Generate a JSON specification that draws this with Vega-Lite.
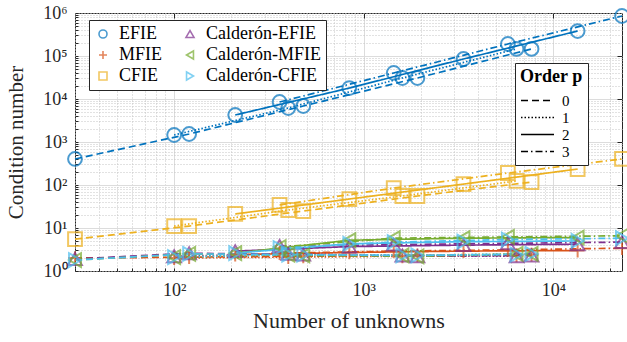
{
  "$schema": "https://vega.github.io/schema/vega-lite/v6.json",
  "width": 547,
  "height": 258,
  "autosize": {"type": "none"},
  "padding": {"left": 75, "top": 13, "right": 5, "bottom": 71},
  "config": {
    "font": "Liberation Serif",
    "view": {"stroke": "#262626", "strokeWidth": 1},
    "axis": {
      "labelFont": "Liberation Serif",
      "titleFont": "Liberation Serif",
      "labelColor": "#262626",
      "titleColor": "#262626",
      "tickColor": "#262626",
      "labelFontSize": 18,
      "titleFontSize": 22,
      "titleFontWeight": "normal",
      "domain": false
    },
    "legend": {
      "labelFont": "Liberation Serif",
      "titleFont": "Liberation Serif",
      "labelColor": "#000000",
      "titleColor": "#000000"
    }
  },
  "data": {
    "values": [
      {"f": "EFIE", "p": "0", "n": 30, "k": 403},
      {"f": "EFIE", "p": "0", "n": 120, "k": 1535},
      {"f": "EFIE", "p": "0", "n": 480, "k": 6870},
      {"f": "EFIE", "p": "0", "n": 1920, "k": 30800},
      {"f": "EFIE", "p": "0", "n": 7680, "k": 146000},
      {"f": "EFIE", "p": "1", "n": 100, "k": 1455},
      {"f": "EFIE", "p": "1", "n": 400, "k": 6180},
      {"f": "EFIE", "p": "1", "n": 1600, "k": 30800},
      {"f": "EFIE", "p": "1", "n": 6400, "k": 146000},
      {"f": "EFIE", "p": "2", "n": 210, "k": 4245},
      {"f": "EFIE", "p": "2", "n": 840, "k": 18000},
      {"f": "EFIE", "p": "2", "n": 3360, "k": 85200},
      {"f": "EFIE", "p": "2", "n": 13440, "k": 381000},
      {"f": "EFIE", "p": "3", "n": 360, "k": 8510},
      {"f": "EFIE", "p": "3", "n": 1440, "k": 40300},
      {"f": "EFIE", "p": "3", "n": 5760, "k": 190000},
      {"f": "EFIE", "p": "3", "n": 23040, "k": 851000},

      {"f": "CFIE", "p": "0", "n": 30, "k": 5.5},
      {"f": "CFIE", "p": "0", "n": 120, "k": 11.1},
      {"f": "CFIE", "p": "0", "n": 480, "k": 24.8},
      {"f": "CFIE", "p": "0", "n": 1920, "k": 55.5},
      {"f": "CFIE", "p": "0", "n": 7680, "k": 117},
      {"f": "CFIE", "p": "1", "n": 100, "k": 11.1},
      {"f": "CFIE", "p": "1", "n": 400, "k": 26.2},
      {"f": "CFIE", "p": "1", "n": 1600, "k": 55.5},
      {"f": "CFIE", "p": "1", "n": 6400, "k": 124},
      {"f": "CFIE", "p": "2", "n": 210, "k": 21.2},
      {"f": "CFIE", "p": "2", "n": 840, "k": 47.2},
      {"f": "CFIE", "p": "2", "n": 3360, "k": 105},
      {"f": "CFIE", "p": "2", "n": 13440, "k": 235},
      {"f": "CFIE", "p": "3", "n": 360, "k": 34.3},
      {"f": "CFIE", "p": "3", "n": 1440, "k": 85},
      {"f": "CFIE", "p": "3", "n": 5760, "k": 190},
      {"f": "CFIE", "p": "3", "n": 23040, "k": 403},

      {"f": "MFIE", "p": "0", "n": 30, "k": 2.0},
      {"f": "MFIE", "p": "0", "n": 120, "k": 2.1},
      {"f": "MFIE", "p": "0", "n": 480, "k": 2.2},
      {"f": "MFIE", "p": "0", "n": 1920, "k": 2.3},
      {"f": "MFIE", "p": "0", "n": 7680, "k": 2.4},
      {"f": "MFIE", "p": "1", "n": 100, "k": 2.0},
      {"f": "MFIE", "p": "1", "n": 400, "k": 2.1},
      {"f": "MFIE", "p": "1", "n": 1600, "k": 2.2},
      {"f": "MFIE", "p": "1", "n": 6400, "k": 2.3},
      {"f": "MFIE", "p": "2", "n": 210, "k": 2.4},
      {"f": "MFIE", "p": "2", "n": 840, "k": 2.7},
      {"f": "MFIE", "p": "2", "n": 3360, "k": 2.9},
      {"f": "MFIE", "p": "2", "n": 13440, "k": 3.0},
      {"f": "MFIE", "p": "3", "n": 360, "k": 2.6},
      {"f": "MFIE", "p": "3", "n": 1440, "k": 2.9},
      {"f": "MFIE", "p": "3", "n": 5760, "k": 3.1},
      {"f": "MFIE", "p": "3", "n": 23040, "k": 3.4},

      {"f": "Calderón-EFIE", "p": "0", "n": 30, "k": 1.9},
      {"f": "Calderón-EFIE", "p": "0", "n": 120, "k": 2.6},
      {"f": "Calderón-EFIE", "p": "0", "n": 480, "k": 2.4},
      {"f": "Calderón-EFIE", "p": "0", "n": 1920, "k": 2.2},
      {"f": "Calderón-EFIE", "p": "0", "n": 7680, "k": 2.3},
      {"f": "Calderón-EFIE", "p": "1", "n": 100, "k": 2.2},
      {"f": "Calderón-EFIE", "p": "1", "n": 400, "k": 2.5},
      {"f": "Calderón-EFIE", "p": "1", "n": 1600, "k": 2.3},
      {"f": "Calderón-EFIE", "p": "1", "n": 6400, "k": 2.2},
      {"f": "Calderón-EFIE", "p": "2", "n": 210, "k": 2.9},
      {"f": "Calderón-EFIE", "p": "2", "n": 840, "k": 3.7},
      {"f": "Calderón-EFIE", "p": "2", "n": 3360, "k": 4.0},
      {"f": "Calderón-EFIE", "p": "2", "n": 13440, "k": 4.2},
      {"f": "Calderón-EFIE", "p": "3", "n": 360, "k": 3.8},
      {"f": "Calderón-EFIE", "p": "3", "n": 1440, "k": 4.1},
      {"f": "Calderón-EFIE", "p": "3", "n": 5760, "k": 4.4},
      {"f": "Calderón-EFIE", "p": "3", "n": 23040, "k": 4.7},

      {"f": "Calderón-MFIE", "p": "0", "n": 30, "k": 1.8},
      {"f": "Calderón-MFIE", "p": "0", "n": 120, "k": 2.5},
      {"f": "Calderón-MFIE", "p": "0", "n": 480, "k": 2.3},
      {"f": "Calderón-MFIE", "p": "0", "n": 1920, "k": 2.2},
      {"f": "Calderón-MFIE", "p": "0", "n": 7680, "k": 2.5},
      {"f": "Calderón-MFIE", "p": "1", "n": 100, "k": 2.1},
      {"f": "Calderón-MFIE", "p": "1", "n": 400, "k": 2.4},
      {"f": "Calderón-MFIE", "p": "1", "n": 1600, "k": 2.3},
      {"f": "Calderón-MFIE", "p": "1", "n": 6400, "k": 2.5},
      {"f": "Calderón-MFIE", "p": "2", "n": 210, "k": 2.6},
      {"f": "Calderón-MFIE", "p": "2", "n": 840, "k": 5.2},
      {"f": "Calderón-MFIE", "p": "2", "n": 3360, "k": 5.8},
      {"f": "Calderón-MFIE", "p": "2", "n": 13440, "k": 6.0},
      {"f": "Calderón-MFIE", "p": "3", "n": 360, "k": 3.6},
      {"f": "Calderón-MFIE", "p": "3", "n": 1440, "k": 5.8},
      {"f": "Calderón-MFIE", "p": "3", "n": 5760, "k": 6.2},
      {"f": "Calderón-MFIE", "p": "3", "n": 23040, "k": 6.6},

      {"f": "Calderón-CFIE", "p": "0", "n": 30, "k": 1.8},
      {"f": "Calderón-CFIE", "p": "0", "n": 120, "k": 2.5},
      {"f": "Calderón-CFIE", "p": "0", "n": 480, "k": 2.4},
      {"f": "Calderón-CFIE", "p": "0", "n": 1920, "k": 2.3},
      {"f": "Calderón-CFIE", "p": "0", "n": 7680, "k": 2.5},
      {"f": "Calderón-CFIE", "p": "1", "n": 100, "k": 2.1},
      {"f": "Calderón-CFIE", "p": "1", "n": 400, "k": 2.4},
      {"f": "Calderón-CFIE", "p": "1", "n": 1600, "k": 2.3},
      {"f": "Calderón-CFIE", "p": "1", "n": 6400, "k": 2.4},
      {"f": "Calderón-CFIE", "p": "2", "n": 210, "k": 2.6},
      {"f": "Calderón-CFIE", "p": "2", "n": 840, "k": 4.3},
      {"f": "Calderón-CFIE", "p": "2", "n": 3360, "k": 4.8},
      {"f": "Calderón-CFIE", "p": "2", "n": 13440, "k": 5.0},
      {"f": "Calderón-CFIE", "p": "3", "n": 360, "k": 3.4},
      {"f": "Calderón-CFIE", "p": "3", "n": 1440, "k": 4.7},
      {"f": "Calderón-CFIE", "p": "3", "n": 5760, "k": 5.4},
      {"f": "Calderón-CFIE", "p": "3", "n": 23040, "k": 5.8}
    ]
  },
  "resolve": {"scale": {"x": "independent", "y": "independent"}},
  "layer": [
    {
      "mark": {"type": "line", "strokeWidth": 1.7},
      "encoding": {
        "x": {
          "field": "n", "type": "quantitative",
          "scale": {"type": "log", "domain": [30, 23040], "nice": false},
          "axis": {
            "orient": "bottom",
            "title": "Number of unknowns",
            "labelFont": "Liberation Serif",
            "titleFont": "Liberation Serif",
            "labelFontSize": 18,
            "tickCount": 40,
            "labelExpr": "abs(log(datum.value)/LN10 - round(log(datum.value)/LN10)) < 0.001 ? '10' + substring('⁰¹²³⁴⁵⁶⁷⁸⁹', round(log(datum.value)/LN10), round(log(datum.value)/LN10) + 1) : ''",
            "labelOverlap": false,
            "labelFlush": false,
            "grid": true,
            "gridDash": [1, 2],
            "gridColor": "#c4c4c4",
            "tickSize": -3,
            "labelPadding": 13,
            "titlePadding": 11
          }
        },
        "y": {
          "field": "k", "type": "quantitative",
          "scale": {"type": "log", "domain": [1, 1000000], "nice": false},
          "axis": {
            "orient": "left",
            "title": "Condition number",
            "labelFont": "Liberation Serif",
            "titleFont": "Liberation Serif",
            "titleFontSize": 21,
            "labelFontSize": 18,
            "tickCount": 60,
            "labelExpr": "abs(log(datum.value)/LN10 - round(log(datum.value)/LN10)) < 0.001 ? '10' + substring('⁰¹²³⁴⁵⁶⁷⁸⁹', round(log(datum.value)/LN10), round(log(datum.value)/LN10) + 1) : ''",
            "labelOverlap": false,
            "labelFlush": false,
            "grid": true,
            "gridDash": [1, 2],
            "gridColor": "#c4c4c4",
            "tickSize": -3,
            "labelPadding": 11,
            "titlePadding": 16
          }
        },
        "color": {
          "field": "f", "type": "nominal",
          "scale": {
            "domain": ["EFIE", "MFIE", "CFIE", "Calderón-EFIE", "Calderón-MFIE", "Calderón-CFIE"],
            "range": ["#0072BD", "#D95319", "#EDB120", "#7E2F8E", "#77AC30", "#4DBEEE"]
          },
          "legend": {
            "title": null,
            "orient": "none",
            "legendX": 14,
            "legendY": 7,
            "columns": 2,
            "columnPadding": 18,
            "rowPadding": 3,
            "padding": 5,
            "labelFont": "Liberation Serif",
            "labelFontSize": 18,
            "labelOffset": 7,
            "symbolSize": 64,
            "symbolStrokeWidth": 1.6,
            "strokeColor": "#262626",
            "fillColor": "white"
          }
        },
        "strokeDash": {
          "field": "p", "type": "nominal",
          "scale": {
            "domain": ["0", "1", "2", "3"],
            "range": [[7, 4], [1.5, 2], [1, 0], [7, 3, 1.5, 3]]
          },
          "legend": {
            "title": "Order p",
            "titleFont": "Liberation Serif",
            "titleFontSize": 18,
            "titleFontWeight": "bold",
            "titlePadding": 6,
            "orient": "none",
            "legendX": 440,
            "legendY": 50,
            "padding": 5,
            "labelFont": "Liberation Serif",
            "labelFontSize": 15,
            "rowPadding": 0,
            "labelOffset": 16,
            "symbolType": "M-2.2,0L2.2,0",
            "symbolSize": 225,
            "symbolOffset": 9,
            "symbolStrokeWidth": 1.5,
            "symbolStrokeColor": "black",
            "strokeColor": "#262626",
            "fillColor": "white"
          }
        }
      }
    },
    {
      "mark": {"type": "point", "filled": false, "strokeWidth": 2, "size": 190},
      "encoding": {
        "x": {
          "field": "n", "type": "quantitative",
          "scale": {"type": "log", "domain": [30, 23040], "nice": false},
          "axis": {
            "orient": "top", "title": null, "values": [100, 1000, 10000],
            "labels": false, "grid": true, "gridColor": "#dcdcdc", "tickSize": -5
          }
        },
        "y": {
          "field": "k", "type": "quantitative",
          "scale": {"type": "log", "domain": [1, 1000000], "nice": false},
          "axis": {
            "orient": "right", "title": null, "values": [10, 100, 1000, 10000, 100000],
            "labels": false, "grid": true, "gridColor": "#dcdcdc", "tickSize": -5
          }
        },
        "color": {"field": "f", "type": "nominal"},
        "shape": {
          "field": "f", "type": "nominal",
          "scale": {
            "domain": ["EFIE", "MFIE", "CFIE", "Calderón-EFIE", "Calderón-MFIE", "Calderón-CFIE"],
            "range": ["circle", "M-1,0L1,0M0,-1L0,1", "square", "triangle-up", "triangle-left", "triangle-right"]
          }
        }
      }
    }
  ]
}
